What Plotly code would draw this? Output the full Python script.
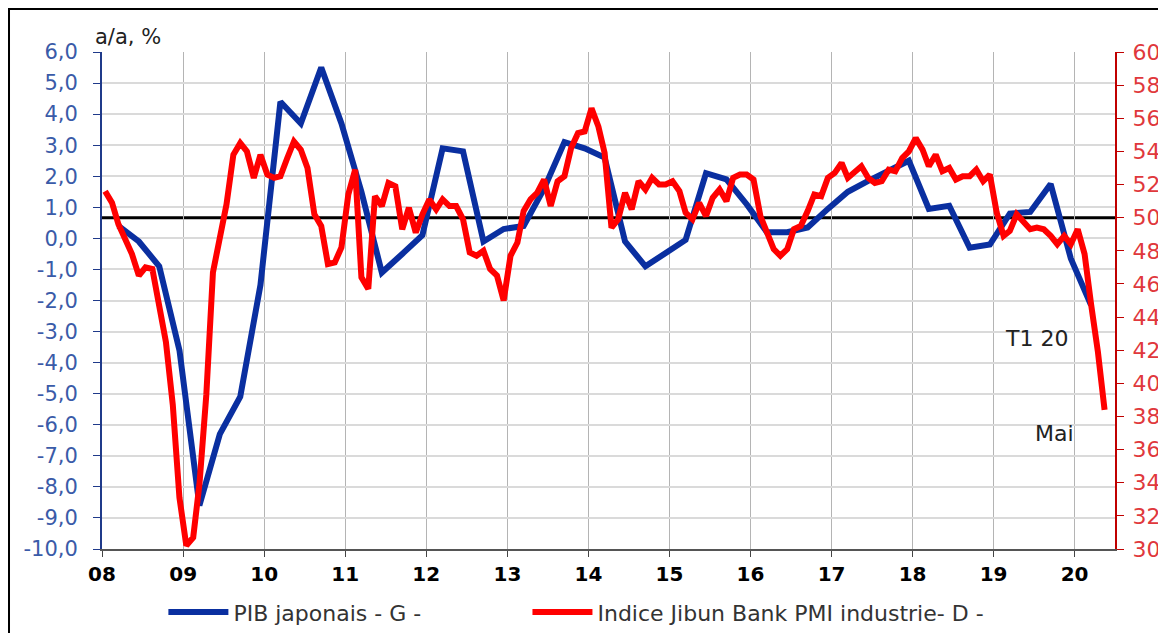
import plotly.graph_objects as go
from plotly.subplots import make_subplots

# Japanese GDP, y/y % (quarterly, Q1 2008 -> Q1 2020)
PIB = [0.4, -0.1, -0.9, -3.6,
       -8.6, -6.3, -5.1, -1.5,
       4.4, 3.7, 5.5, 3.7,
       1.5, -1.1, -0.5, 0.1,
       2.9, 2.8, -0.1, 0.3,
       0.4, 1.6, 3.1, 2.9,
       2.6, -0.1, -0.9, -0.45,
       -0.05, 2.1, 1.9, 1.1,
       0.2, 0.2, 0.35, 0.95,
       1.5, 1.85, 2.2, 2.5,
       0.95, 1.05, -0.3, -0.2,
       0.8, 0.85, 1.75, -0.65,
       -2.15]

# Jibun Bank manufacturing PMI (monthly, Jan 2008 -> May 2020)
PMI = [51.6, 50.9, 49.6, 48.6, 47.8, 46.5, 47.0, 46.9, 44.7, 42.5, 38.7, 33.1,
       30.2, 30.7, 33.9, 39.3, 46.7, 48.6, 50.8, 53.8, 54.5, 54.0, 52.4, 53.8,
       52.6, 52.4, 52.5, 53.6, 54.6, 54.1, 53.0, 50.2, 49.5, 47.2, 47.3, 48.2,
       51.4, 52.9, 46.4, 45.7, 51.3, 50.7, 52.1, 51.9, 49.3, 50.6, 49.1, 50.2,
       51.1, 50.5, 51.1, 50.7, 50.7, 49.9, 47.9, 47.7, 48.0, 46.9, 46.5, 45.0,
       47.7, 48.5, 50.4, 51.1, 51.5, 52.3, 50.7, 52.2, 52.5, 54.2, 55.1, 55.2,
       56.6, 55.5, 53.9, 49.4, 49.9, 51.5, 50.5, 52.2, 51.7, 52.4, 52.0, 52.0,
       52.2, 51.6, 50.3, 49.9, 50.9, 50.1, 51.2, 51.7, 51.0, 52.4, 52.6, 52.6,
       52.3, 50.1, 49.1, 48.1, 47.7, 48.1, 49.3, 49.5, 50.4, 51.4, 51.3, 52.4,
       52.7, 53.3, 52.4, 52.7, 53.1, 52.4, 52.1, 52.2, 52.9, 52.8, 53.6, 54.0,
       54.8, 54.1, 53.1, 53.8, 52.8, 53.0, 52.3, 52.5, 52.5, 52.9, 52.2, 52.6,
       50.3, 48.9, 49.2, 50.2, 49.8, 49.3, 49.4, 49.3, 48.9, 48.4, 48.9, 48.4,
       49.3, 47.8, 44.8, 41.9, 38.4]

START_YEAR = 2008
YEARS = list(range(2008, 2021))
YEAR_LABELS = [f"{y % 100:02d}" for y in YEARS]
LEFT_TICKS = list(range(-10, 7))
LEFT_LABELS = [f"{v:.1f}".replace(".", ",") for v in LEFT_TICKS]
RIGHT_TICKS = list(range(30, 61, 2))
RIGHT_LABELS = [str(v) for v in RIGHT_TICKS]
PMI_THRESHOLD = 50

months = [f"{START_YEAR + i // 12}-{i % 12 + 1:02d}-15" for i in range(len(PMI))]
quarters = [f"{START_YEAR + i // 4}-{3 * (i % 4) + 3:02d}-15" for i in range(len(PIB))]

FONT = "DejaVu Sans"

fig = make_subplots(specs=[[{"secondary_y": True}]])
fig.add_trace(go.Scatter(x=quarters, y=PIB, mode="lines", name="PIB japonais - G -",
                         line=dict(color="#0A2FA0", width=6), legend="legend"),
              secondary_y=False)
fig.add_trace(go.Scatter(x=months, y=PMI, mode="lines", name="Indice Jibun Bank PMI industrie- D -",
                         line=dict(color="#FF0000", width=6), legend="legend2"),
              secondary_y=True)

fig.add_shape(type="line", xref="paper", x0=0, x1=1, yref="y2", y0=PMI_THRESHOLD, y1=PMI_THRESHOLD,
              line=dict(color="black", width=3), layer="below")
# outer frame
fig.add_shape(type="rect", xref="paper", yref="paper", x0=-0.0918, x1=1.08, y0=-0.25, y1=1.0865,
              line=dict(color="black", width=2), fillcolor="rgba(0,0,0,0)")

fig.update_xaxes(type="date", range=["2008-01-01", "2020-07-01"], automargin=False,
                 domain=[0, 1],
                 tickvals=[f"{y}-01-01" for y in YEARS], ticktext=YEAR_LABELS,
                 ticks="outside", ticklen=6, tickcolor="#444", tickwidth=1,
                 showline=True, linecolor="#555", linewidth=2,
                 showgrid=True, gridcolor="#B4B4B4", gridwidth=1,
                 tickfont=dict(family=FONT, size=20, color="black", weight="bold"))

fig.update_yaxes(range=[-10, 6], tickvals=LEFT_TICKS, ticktext=LEFT_LABELS, automargin=False,
                 ticks="outside", ticklen=7, tickcolor="#1F3A8A",
                 showline=True, linecolor="#1F3A8A", linewidth=2,
                 showgrid=True, gridcolor="#DADADA", gridwidth=2, zeroline=False,
                 tickfont=dict(family=FONT, size=21, color="#3A5BA8"),
                 ticklabelstandoff=11,
                 secondary_y=False)
fig.update_yaxes(range=[30, 60], tickvals=RIGHT_TICKS, ticktext=RIGHT_LABELS, automargin=False,
                 ticks="outside", ticklen=7, tickcolor="#C00000",
                 showline=True, linecolor="#C00000", linewidth=2,
                 showgrid=False, zeroline=False,
                 tickfont=dict(family=FONT, size=22, color="#E0383C"),
                 ticklabelstandoff=4,
                 secondary_y=True)

fig.add_annotation(text="a/a, %", xref="paper", yref="paper", x=-0.0089, y=1.03,
                   xanchor="left", yanchor="middle", showarrow=False,
                   font=dict(family=FONT, size=21, color="#222"))
fig.add_annotation(text="T1 20", xref="paper", yref="paper", x=0.923, y=0.4245,
                   xanchor="center", yanchor="middle", showarrow=False,
                   font=dict(family=FONT, size=22, color="#222"))
fig.add_annotation(text="Mai", xref="paper", yref="paper", x=0.94, y=0.2314,
                   xanchor="center", yanchor="middle", showarrow=False,
                   font=dict(family=FONT, size=22, color="#222"))

LEGEND_FONT = dict(family=FONT, size=22, color="#333")
fig.update_layout(width=1158, height=625,
                  margin=dict(l=94, r=51, t=44, b=84, autoexpand=False),
                  plot_bgcolor="white", paper_bgcolor="white",
                  showlegend=True,
                  legend=dict(orientation="h", x=0.0606, y=-0.127, xanchor="left", yanchor="middle",
                              font=LEGEND_FONT, itemwidth=60, bgcolor="rgba(0,0,0,0)"),
                  legend2=dict(orientation="h", x=0.42, y=-0.127, xanchor="left", yanchor="middle",
                               font=LEGEND_FONT, itemwidth=60, bgcolor="rgba(0,0,0,0)"))

fig.write_html("out.html")
